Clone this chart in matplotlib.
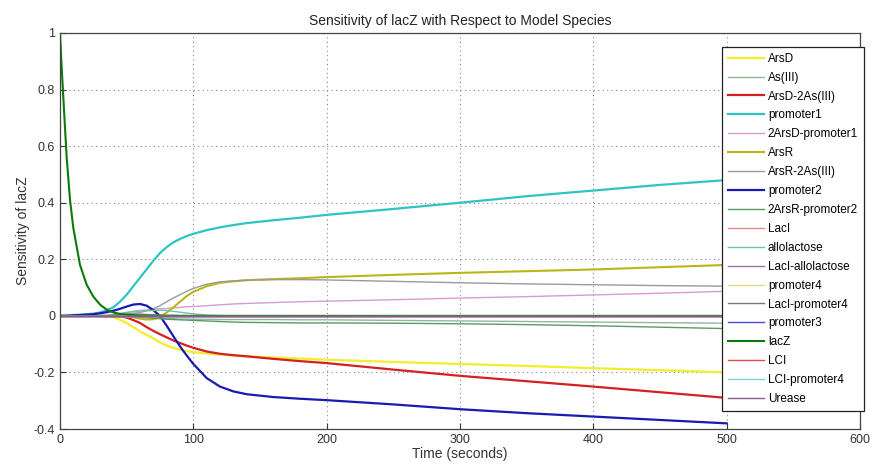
import matplotlib
matplotlib.use("Agg")
import matplotlib.pyplot as plt

plt.rcParams['font.family'] = ['Liberation Sans', 'DejaVu Sans']

t = [0, 1, 2.5, 5, 7.5, 10, 15, 20, 25, 30, 35, 40, 45, 50, 55, 60, 65, 70, 75, 80,
     85, 90, 95, 100, 110, 120, 130, 140, 160, 180, 200, 250, 300, 350, 400, 450, 500]

species = ["ArsD", "As(III)", "ArsD-2As(III)", "promoter1", "2ArsD-promoter1",
           "ArsR", "ArsR-2As(III)", "promoter2", "2ArsR-promoter2", "LacI",
           "allolactose", "LacI-allolactose", "promoter4", "LacI-promoter4",
           "promoter3", "lacZ", "LCI", "LCI-promoter4", "Urease"]

colors = ["#f2ee2a", "#8fb89a", "#d42020", "#2fc4c4", "#d79bd7",
          "#bcb614", "#9a9a9a", "#1a1ab0", "#5a9a62", "#e08a8a",
          "#6cc0b0", "#a070a8", "#e4dc7a", "#7a7a7a", "#4a4ad0",
          "#0a7a0a", "#e05050", "#80d0d0", "#8a5a90"]

zero = [0] * 37

#            0  1  2.5 5  7.5 10 15 20 25 30
ArsD = [0, 0, 0, 0, 0, 0, 0, 0, 0, -0.001,
        -0.002, -0.005, -0.014, -0.025, -0.04, -0.055, -0.067, -0.08, -0.094, -0.105,
        -0.113, -0.12, -0.125, -0.128, -0.133, -0.137, -0.14, -0.143, -0.147, -0.151,
        -0.155, -0.163, -0.17, -0.177, -0.185, -0.192, -0.2]
As_III = [0, 0, 0, 0, 0, 0, 0, 0, 0, 0,
          0, 0, 0, -0.002, -0.004, -0.005, -0.006, -0.007, -0.008, -0.009,
          -0.01, -0.011, -0.011, -0.012, -0.012, -0.013, -0.013, -0.013, -0.013, -0.014,
          -0.014, -0.016, -0.018, -0.02, -0.022, -0.024, -0.026]
ArsD_2As = [0, 0, 0, 0, 0, 0, 0, 0, 0, 0,
            0, -0.001, -0.002, -0.006, -0.015, -0.025, -0.04, -0.053, -0.065, -0.076,
            -0.087, -0.096, -0.105, -0.113, -0.126, -0.134, -0.139, -0.143, -0.152, -0.16,
            -0.167, -0.19, -0.212, -0.231, -0.25, -0.27, -0.29]
promoter1 = [0, 0, 0, 0.001, 0.002, 0.003, 0.004, 0.006, 0.008, 0.012,
             0.02, 0.03, 0.05, 0.075, 0.105, 0.135, 0.165, 0.195, 0.222, 0.243,
             0.26, 0.272, 0.282, 0.29, 0.303, 0.313, 0.321, 0.328, 0.338, 0.347,
             0.357, 0.378, 0.4, 0.423, 0.443, 0.463, 0.48]
ArsD_prom1 = [0, 0, 0, 0, 0, 0, 0, 0, 0, 0,
              0.001, 0.004, 0.008, 0.012, 0.016, 0.019, 0.021, 0.023, 0.025, 0.026,
              0.028, 0.03, 0.032, 0.033, 0.036, 0.039, 0.042, 0.044, 0.047, 0.05,
              0.052, 0.057, 0.063, 0.068, 0.074, 0.08, 0.087]
ArsR = [0, 0, 0, 0, 0, 0, 0, 0, 0, 0,
        0, 0, 0, -0.002, -0.005, -0.01, -0.013, -0.012, -0.005, 0.012,
        0.03, 0.05, 0.07, 0.085, 0.105, 0.117, 0.122, 0.126, 0.13, 0.133,
        0.137, 0.145, 0.152, 0.158, 0.164, 0.172, 0.18]
ArsR_2As = [0, 0, 0, 0, 0, 0, 0, 0, 0, 0,
            0.001, 0.003, 0.004, 0.006, 0.009, 0.012, 0.018, 0.025, 0.036, 0.05,
            0.063, 0.075, 0.087, 0.097, 0.112, 0.12, 0.124, 0.126, 0.128, 0.128,
            0.127, 0.122, 0.117, 0.113, 0.11, 0.107, 0.105]
promoter2 = [0, 0, 0, 0, 0.001, 0.002, 0.003, 0.004, 0.006, 0.009,
             0.013, 0.018, 0.025, 0.033, 0.04, 0.042, 0.036, 0.02, 0, -0.035,
             -0.072, -0.108, -0.14, -0.17, -0.22, -0.25, -0.267, -0.277, -0.287, -0.293,
             -0.298, -0.313, -0.33, -0.344, -0.356, -0.368, -0.38]
ArsR_prom2 = [0, 0, 0, 0, 0, 0, 0, 0, 0, 0,
              0, 0, 0, 0, -0.002, -0.004, -0.006, -0.008, -0.01, -0.012,
              -0.013, -0.014, -0.015, -0.016, -0.018, -0.02, -0.022, -0.023, -0.024, -0.025,
              -0.025, -0.026, -0.028, -0.031, -0.035, -0.04, -0.045]
allolactose = [0, 0, 0, 0, 0, 0, 0, 0, 0, 0,
               0, 0.004, 0.008, 0.012, 0.015, 0.017, 0.018, 0.019, 0.02, 0.019,
               0.016, 0.013, 0.01, 0.007, 0.003, 0.001, 0, 0, 0, 0,
               0, 0, 0, 0, 0, 0, 0]
LacI_prom4 = [0, 0, 0, 0, 0, 0, 0, 0, 0, 0,
              0, 0.003, 0.005, 0.006, 0.006, 0.006, 0.005, 0.004, 0.003, 0.002,
              0.002, 0.001, 0.001, 0, 0, 0, 0, 0, 0, 0,
              0, 0, 0, 0, 0, 0, 0]
lacZ = [1.0, 0.9, 0.77, 0.56, 0.41, 0.31, 0.18, 0.11, 0.068, 0.04,
        0.022, 0.012, 0.007, 0.004, 0.002, 0.001, 0, 0, 0, 0,
        0, 0, 0, 0, 0, 0, 0, 0, 0, 0,
        0, 0, 0, 0, 0, 0, 0]

series = [ArsD, As_III, ArsD_2As, promoter1, ArsD_prom1, ArsR, ArsR_2As, promoter2,
          ArsR_prom2, zero, allolactose, zero, zero, LacI_prom4, zero, lacZ, zero, zero, zero]

fig = plt.figure(figsize=(8.71, 4.68), dpi=100)
ax = fig.add_axes([0.0689, 0.0833, 0.9185, 0.8462])

widths = {"ArsD": 1.6, "ArsD-2As(III)": 1.6, "promoter1": 1.6, "promoter2": 1.6,
          "ArsR": 1.5, "lacZ": 1.5}
for name, col, y in zip(species, colors, series):
    ax.plot(t, y, color=col, lw=widths.get(name, 1.0), label=name)

ax.set_xlim(0, 600)
ax.set_ylim(-0.4, 1.0)
xt = [0, 100, 200, 300, 400, 500, 600]
yt = [-0.4, -0.2, 0, 0.2, 0.4, 0.6, 0.8, 1.0]
ytl = ["-0.4", "-0.2", "0", "0.2", "0.4", "0.6", "0.8", "1"]
ax.set_xticks(xt)
ax.set_yticks(yt)
ax.set_yticklabels(ytl)
ax.tick_params(direction='in', length=4, labelsize=9, colors='#333333')
ax.grid(True, linestyle=(0, (1, 3)), color='#888888', lw=0.8)
for s in ax.spines.values():
    s.set_color('#444444')
    s.set_linewidth(0.9)

ax.set_title("Sensitivity of lacZ with Respect to Model Species", fontsize=10, color='#222222', pad=6)
ax.set_xlabel("Time (seconds)", fontsize=10, color='#333333', labelpad=1)
ax.set_ylabel("Sensitivity of lacZ", fontsize=10, color='#333333', labelpad=3)

leg = ax.legend(loc='upper right', bbox_to_anchor=(1.005, 0.965), fontsize=8.5,
                handlelength=3.1, labelspacing=0.585, borderpad=0.5, handletextpad=0.3,
                borderaxespad=0, fancybox=False, framealpha=1, edgecolor='#222222')
leg.get_frame().set_linewidth(0.9)

fig.savefig("out.png", dpi=100)
